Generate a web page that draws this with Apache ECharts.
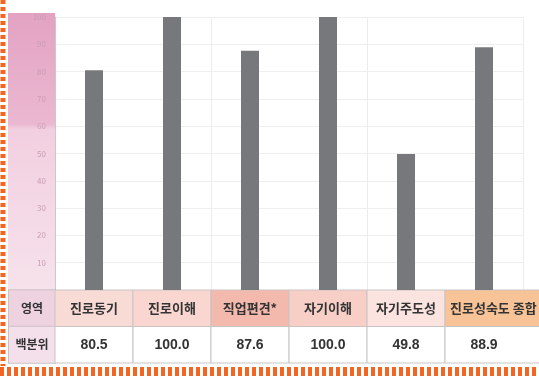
<!DOCTYPE html>
<html>
<head>
<meta charset="utf-8">
<script src="https://cdn.jsdelivr.net/npm/echarts@6/dist/echarts.min.js"></script>
<style>
  html, body { margin: 0; padding: 0; background: #fff; }
  #chart { width: 539px; height: 376px; }
</style>
</head>
<body>
<div id="chart"></div>
<script>
// 진로성숙도 영역별 백분위
const categories = ['진로동기', '진로이해', '직업편견*', '자기이해', '자기주도성', '진로성숙도 종합'];
const percentiles = [80.5, 100.0, 87.6, 100.0, 49.8, 88.9];
const valueLabels = ['80.5', '100.0', '87.6', '100.0', '49.8', '88.9'];
const rowTitles = ['영역', '백분위'];
const headerColors = ['#f9dbd5', '#f9d6cf', '#f4b9ad', '#f8cfc7', '#fbe3df', '#f8c396'];

const font = '"Noto Sans CJK KR", "Liberation Sans", sans-serif';
const numFont = '"Liberation Sans", Arial, sans-serif';

// table cells: [col, row]
const tableCells = [];
categories.forEach((c, i) => {
  tableCells.push([i, 0]);
  tableCells.push([i, 1]);
});

let chart = echarts.init(document.getElementById('chart'));
chart.setOption({
  animation: false,
  graphic: [
    {
      type: 'rect',
      z: -1,
      shape: { x: 8, y: 13, width: 47, height: 277 },
      style: {
        fill: new echarts.graphic.LinearGradient(0, 0, 0, 1, [
          { offset: 0, color: '#e3a2c2' },
          { offset: 0.4, color: '#ebb8d1' },
          { offset: 0.42, color: '#f2cfe0' },
          { offset: 1, color: '#f6e2eb' }
        ])
      }
    },
    {
      type: 'line',
      shape: { x1: 3, y1: 0, x2: 3, y2: 366 },
      style: { stroke: '#f26522', lineWidth: 5, lineDash: [4, 3] }
    },
    {
      type: 'line',
      shape: { x1: 0, y1: 371.5, x2: 539, y2: 371.5 },
      style: { stroke: '#f26522', lineWidth: 9, lineDash: [4, 3] }
    }
  ],
  grid: [
    { left: 55, right: 16, top: 17, bottom: 86 },
    { left: 55, right: 16, top: 290, height: 73 }
  ],
  xAxis: [
    {
      type: 'category',
      gridIndex: 0,
      data: categories,
      axisLabel: { show: false },
      axisTick: { show: false },
      axisLine: { show: false },
      splitLine: {
        show: true,
        lineStyle: { color: ['#e6e6e6', '#ececec', '#ececec', '#ececec', '#ececec', '#c8c8c8', '#ececec'] }
      }
    },
    {
      type: 'category',
      gridIndex: 1,
      data: categories,
      show: false
    }
  ],
  yAxis: [
    {
      type: 'value',
      gridIndex: 0,
      min: 0,
      max: 100,
      interval: 10,
      axisLine: { show: true, lineStyle: { color: '#cfc6cb' } },
      axisTick: { show: false },
      axisLabel: {
        color: '#c99db4',
        fontSize: 8,
        margin: 9,
        fontFamily: font,
        formatter: v => (v === 0 ? '' : v)
      },
      splitLine: { lineStyle: { color: '#efefef' } }
    },
    {
      type: 'category',
      gridIndex: 1,
      inverse: true,
      data: rowTitles,
      axisLine: { show: false },
      axisTick: { show: false },
      axisLabel: {
        interval: 0,
        margin: 0,
        formatter: (v, i) => '{r' + i + '|' + v + '}',
        rich: {
          r0: {
            width: 46, height: 36, lineHeight: 36, align: 'center',
            backgroundColor: '#efd2e0', borderColor: '#c9c1c5', borderWidth: 1,
            color: '#333', fontSize: 12, fontWeight: 'bold', fontFamily: font
          },
          r1: {
            width: 46, height: 36, lineHeight: 36, align: 'center',
            backgroundColor: '#f4e0ea', borderColor: '#c9c1c5', borderWidth: 1,
            color: '#333', fontSize: 12, fontWeight: 'bold', fontFamily: font
          }
        }
      }
    }
  ],
  series: [
    {
      type: 'bar',
      xAxisIndex: 0,
      yAxisIndex: 0,
      data: percentiles,
      barWidth: 18,
      itemStyle: { color: '#77787c' }
    },
    {
      type: 'custom',
      xAxisIndex: 1,
      yAxisIndex: 1,
      data: tableCells,
      renderItem: (params, api) => {
        const col = api.value(0);
        const row = api.value(1);
        const c = api.coord([col, row]);
        const s = api.size([1, 1]);
        const extra = col === categories.length - 1 ? 30 : 0;
        const x = c[0] - s[0] / 2;
        const y = c[1] - s[1] / 2;
        return {
          type: 'group',
          children: [
            {
              type: 'rect',
              shape: { x: x, y: y, width: s[0] + extra, height: s[1] },
              style: {
                fill: row === 0 ? headerColors[col] : '#ffffff',
                stroke: '#c9c4c4',
                lineWidth: 1
              }
            },
            {
              type: 'text',
              style: {
                x: row === 0 && extra ? x + 5 : c[0],
                y: c[1],
                text: row === 0 ? categories[col] : valueLabels[col],
                fill: '#333',
                fontSize: row === 0 ? 13 : 14,
                fontWeight: 'bold',
                fontFamily: row === 0 ? font : numFont,
                align: row === 0 && extra ? 'left' : 'center',
                verticalAlign: 'middle'
              }
            }
          ]
        };
      }
    }
  ]
});
</script>
</body>
</html>
